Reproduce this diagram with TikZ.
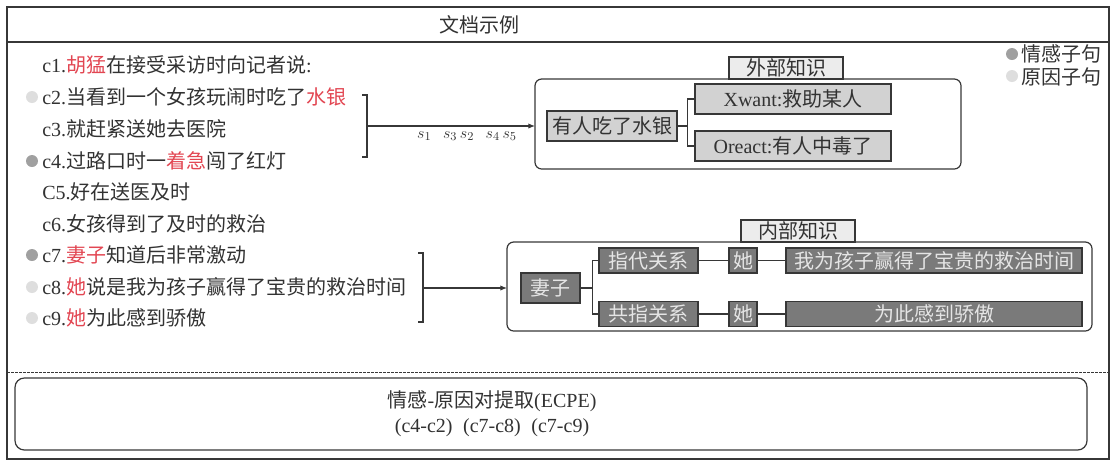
\documentclass[tikz,border=0pt]{standalone}
\usepackage{fontspec}
\setmainfont{Noto Sans CJK SC}
\newfontfamily\latfont{Liberation Serif}
\usetikzlibrary{arrows.meta}

\definecolor{redw}{RGB}{226,70,82}
\definecolor{linec}{RGB}{55,55,55}
\definecolor{txtc}{RGB}{50,50,50}
\definecolor{midfill}{RGB}{210,210,210}
\definecolor{darkfill}{RGB}{122,122,122}
\definecolor{lightfill}{RGB}{236,236,236}
\definecolor{emodot}{RGB}{160,160,160}
\definecolor{causedot}{RGB}{222,222,222}

\newcommand\lat[1]{{\latfont #1}}
\newcommand\redw[1]{\textcolor{redw}{#1}}

\begin{document}
\begin{tikzpicture}[x=0.75pt, y=-0.75pt,
  every node/.style={font=\fontsize{15}{18}\selectfont, text=txtc, inner sep=0pt},
  clause/.style={anchor=west},
  frame/.style={draw=linec, line width=0.9pt, rounded corners=5pt},
  kbox/.style={draw=linec, line width=0.9pt, fill=midfill, minimum height=22.5pt},
  dbox/.style={draw=linec, line width=0.9pt, fill=darkfill, text=black!10, minimum height=18.75pt},
  tbox/.style={draw=linec, line width=0.9pt, fill=lightfill, minimum width=85.5pt, minimum height=16.5pt},
  link/.style={draw=linec, line width=0.8pt},
  dot/.style={circle, minimum size=9pt}]
\useasboundingbox (0,0) rectangle (1115,462);

% outer frame and title
\draw[linec, line width=1pt] (7,7) rectangle (1109,459);
\draw[linec, line width=1pt] (7,42) -- (1109,42);
\node (title) at (479,25) {文档示例};

% document clauses
\node[clause] (c1) at (42,65) {\lat{c1.}\redw{胡猛}在接受采访时向记者说\lat{:}};
\node[clause] (c2) at (42,97) {\lat{c2.}当看到一个女孩玩闹时吃了\redw{水银}};
\node[clause] (c3) at (42,129) {\lat{c3.}就赶紧送她去医院};
\node[clause] (c4) at (42,161) {\lat{c4.}过路口时一\redw{着急}闯了红灯};
\node[clause] (c5) at (42,192) {\lat{C5.}好在送医及时};
\node[clause] (c6) at (42,224) {\lat{c6.}女孩得到了及时的救治};
\node[clause] (c7) at (42,255) {\lat{c7.}\redw{妻子}知道后非常激动};
\node[clause] (c8) at (42,287) {\lat{c8.}\redw{她}说是我为孩子赢得了宝贵的救治时间};
\node[clause] (c9) at (42,318) {\lat{c9.}\redw{她}为此感到骄傲};

\node[dot, fill=causedot] (d2) at (32,97) {};
\node[dot, fill=emodot] (d4) at (32,161) {};
\node[dot, fill=emodot] (d7) at (32,255) {};
\node[dot, fill=causedot] (d8) at (32,287) {};
\node[dot, fill=causedot] (d9) at (32,318) {};

% legend
\node[dot, fill=emodot] (emod) at (1012,54) {};
\node[anchor=west] (emot) at (1021,54) {情感子句};
\node[dot, fill=causedot] (caused) at (1012,76) {};
\node[anchor=west] (causet) at (1021,77) {原因子句};

% external knowledge
\draw[link] (362,95) -- (367,95) -- (367,157) -- (362,157);
\coordinate (b1) at (367,126);
\coordinate (extin) at (535,126);
\draw[link, -{Latex[length=5pt,width=4pt]}] (b1) -- (extin);
\node[font=\fontsize{12.5}{14}\selectfont] (slist) at (467,136) {$s_1\;\;\, s_3\, s_2\;\;\, s_4\, s_5$};

\draw[frame] (535,79) rectangle (961,169);
\node[tbox] (extt) at (786,68) {外部知识};
\node[kbox, minimum width=97.5pt] (has) at (612,126) {有人吃了水银};
\node[kbox, minimum width=147pt] (xwant) at (793,99) {\lat{Xwant:}救助某人};
\node[kbox, minimum width=147pt] (oreact) at (793,146) {\lat{Oreact:}有人中毒了};
\draw[link] (has.east) -- ++(10,0) |- (xwant.west);
\draw[link] (has.east) ++(10,0) |- (oreact.west);

% internal knowledge
\draw[link] (418,253) -- (423,253) -- (423,322) -- (418,322);
\coordinate (b2) at (423,288);
\coordinate (intin) at (507,288);
\draw[link, -{Latex[length=5pt,width=4pt]}] (b2) -- (intin);

\draw[frame] (507,242) rectangle (1092,331);
\node[tbox] (intt) at (798,231) {内部知识};
\node[dbox, minimum width=44.25pt, minimum height=22.5pt] (wife) at (550.5,288) {妻子};
\node[dbox, minimum width=74.25pt] (ref) at (648.5,260.5) {指代关系};
\node[dbox, minimum width=21pt] (she1) at (743,260.5) {她};
\node[dbox, minimum width=222pt] (win) at (934,260.5) {我为孩子赢得了宝贵的救治时间};
\node[dbox, minimum width=74.25pt] (coref) at (648.5,314) {共指关系};
\node[dbox, minimum width=21pt] (she2) at (743,314) {她};
\node[dbox, minimum width=222pt] (proud) at (934,314) {为此感到骄傲};
\draw[link] (wife.east) -- ++(12,0) |- (ref.west);
\draw[link] (wife.east) ++(12,0) |- (coref.west);
\draw[link] (ref) -- (she1) -- (win);
\draw[link] (coref) -- (she2) -- (proud);

% result
\draw[linec, line width=0.6pt, dash pattern=on 2pt off 1pt] (7,372) -- (1109,372);
\draw[frame, rounded corners=7pt] (15,378) rectangle (1087,450);
\node (ecpe) at (492,401) {情感\lat{-}原因对提取\lat{(ECPE)}};
\node (pairs) at (492,428) {\lat{(c4-c2)\; (c7-c8)\; (c7-c9)}};

\end{tikzpicture}
\end{document}
